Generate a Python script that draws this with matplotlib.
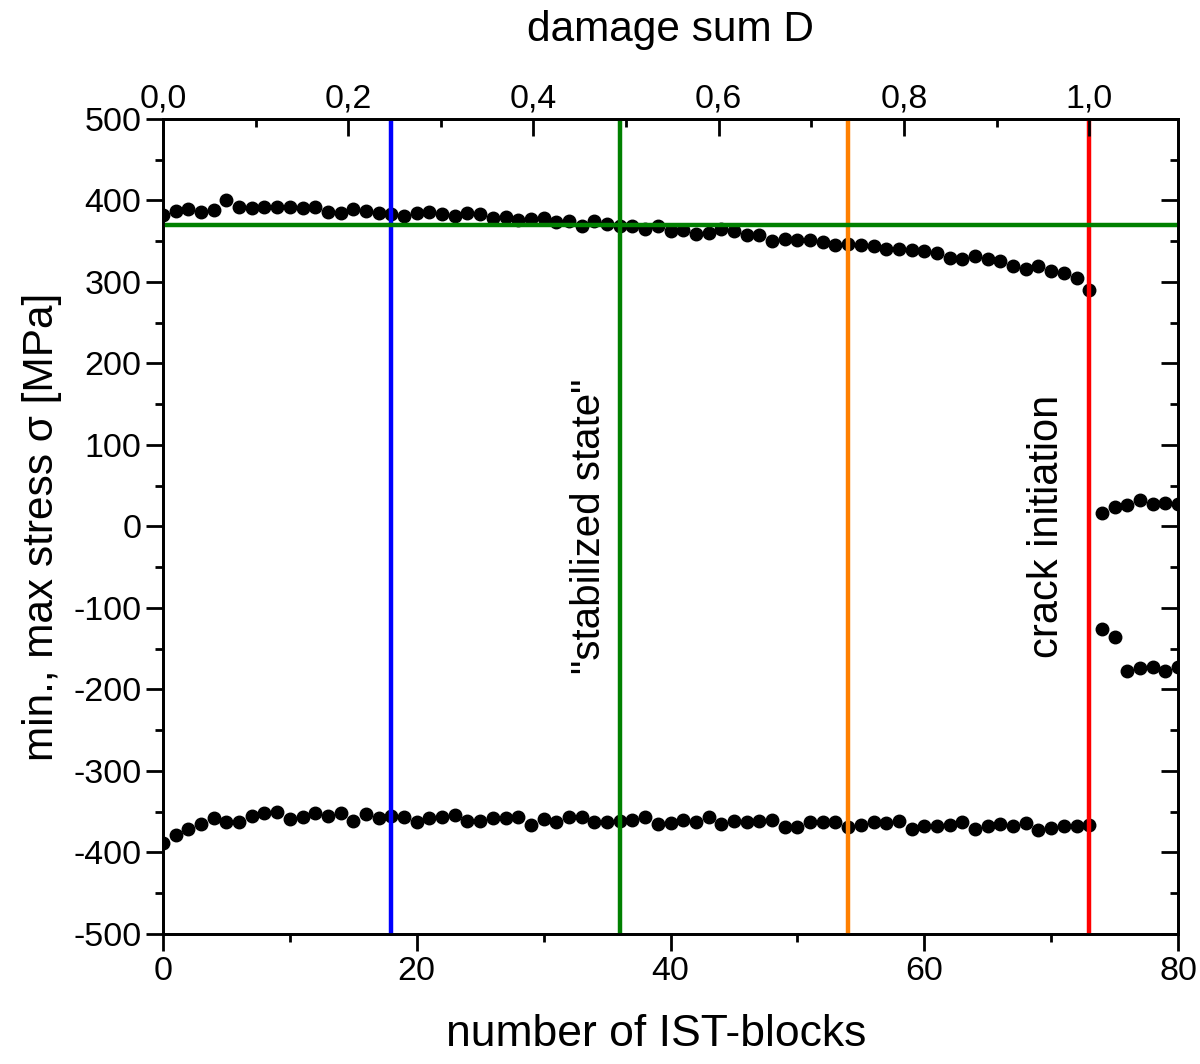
import numpy as np
import matplotlib.pyplot as plt
from matplotlib.ticker import MultipleLocator, FuncFormatter

plt.rcParams['font.family'] = ['Liberation Sans', 'DejaVu Sans']
plt.rcParams['axes.unicode_minus'] = False

# data
blocks = np.arange(0, 81)
sigma_max = [382, 387, 389, 386, 388, 400, 392, 391, 392, 392,
             392, 391, 392, 386, 384, 389, 387, 384, 383, 381,
             384, 386, 383, 381, 384, 383, 378, 380, 376, 377,
             379, 374, 375, 369, 375, 371, 369, 369, 365, 369,
             363, 364, 359, 360, 365, 362, 358, 358, 350, 353,
             352, 352, 349, 345, 347, 345, 344, 340, 340, 339,
             338, 336, 330, 328, 332, 328, 326, 319, 316, 319,
             313, 311, 305, 290,
             17, 24, 26, 32, 28, 29, 27]
sigma_min = [-388, -378, -371, -365, -358, -362, -362, -355, -351, -350,
             -359, -357, -352, -355, -352, -361, -353, -358, -355, -357,
             -362, -358, -356, -354, -361, -361, -358, -358, -356, -366,
             -359, -363, -357, -357, -362, -363, -361, -360, -356, -365,
             -364, -360, -363, -357, -365, -361, -362, -361, -360, -369,
             -369, -363, -362, -362, -369, -366, -362, -364, -361, -371,
             -368, -368, -366, -363, -371, -368, -365, -367, -364, -372,
             -370, -368, -367, -366,
             -126, -136, -177, -174, -173, -177, -173]

n_fail = 73  # blocks to crack initiation (D = 1)
marker_blocks = [18, 36, 54, 73]
marker_colors = ['#0000ff', '#008000', '#ff8000', '#ff0000']
stabilized_level = 370

fig = plt.figure(figsize=(12, 10.64), dpi=100)
ax = fig.add_axes([0.1358, 0.1222, 0.8459, 0.766])

ax.plot(blocks, sigma_max, 'o', color='black', ms=9, zorder=3)
ax.plot(blocks, sigma_min, 'o', color='black', ms=9, zorder=3)

for xb, c in zip(marker_blocks, marker_colors):
    ax.axvline(xb, color=c, lw=3.2, zorder=4)
ax.axhline(stabilized_level, color='#008000', lw=3.2, zorder=4)

ax.text(33.6, 0, '"stabilized state"', rotation=90, ha='center', va='center', fontsize=29)
ax.text(69.7, 0, 'crack initiation', rotation=90, ha='center', va='center', fontsize=30)

ax.set_xlim(0, 80)
ax.set_ylim(-500, 500)
ax.xaxis.set_major_locator(MultipleLocator(20))
ax.xaxis.set_minor_locator(MultipleLocator(10))
ax.yaxis.set_major_locator(MultipleLocator(100))
ax.yaxis.set_minor_locator(MultipleLocator(50))
ax.tick_params(axis='both', which='major', labelsize=24.5, length=12, width=2, direction='out')
ax.tick_params(axis='both', which='minor', length=6, width=2, direction='out')
ax.tick_params(axis='y', which='both', right=True, labelright=False)
for t in ax.yaxis.get_ticklines(minor=False)[1::2] + ax.yaxis.get_ticklines(minor=True)[1::2]:
    t.set_marker(0)  # right side ticks point inward
ax.set_xlabel('number of IST-blocks', fontsize=32)
ax.xaxis.set_label_coords(0.486, -0.098)
ax.set_ylabel('min., max stress σ [MPa]', fontsize=30.5, labelpad=8)

for sp in ax.spines.values():
    sp.set_linewidth(2)

# top axis: damage sum D = N / N_fail
top = ax.twiny()
top.set_xlim(0, 80 / n_fail)
top.xaxis.set_major_locator(MultipleLocator(0.2))
top.xaxis.set_minor_locator(MultipleLocator(0.1))
top.xaxis.set_major_formatter(FuncFormatter(lambda v, p: f'{v:.1f}'.replace('.', ',')))
top.tick_params(axis='x', which='major', labelsize=24.5, length=12, width=2, direction='in', pad=3)
top.tick_params(axis='x', which='minor', length=6, width=2, direction='in')
top.set_xlabel('damage sum D', fontsize=30.5, labelpad=31)
for sp in top.spines.values():
    sp.set_linewidth(2)

fig.savefig('out.png', dpi=100)
